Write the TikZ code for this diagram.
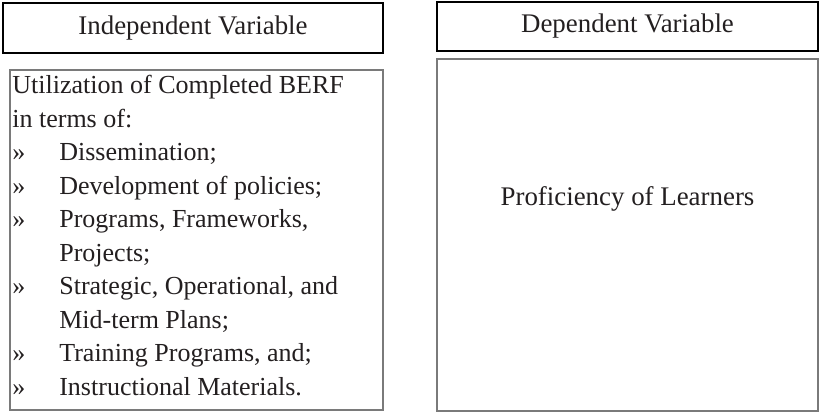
\documentclass[tikz,border=0pt]{standalone}
\usepackage{fontspec}
\setmainfont{Liberation Serif}
\definecolor{inkgrey}{HTML}{231F20}
\definecolor{boxgrey}{HTML}{7A7A7A}
\newcommand{\bul}[1]{\makebox[0.94cm][l]{»}#1}
\newcommand{\cont}[1]{\hspace*{0.94cm}#1}

\begin{document}
\begin{tikzpicture}[x=0.02cm, y=-0.02cm,
            every node/.style = {text=inkgrey, inner sep=0pt},
            headbox/.style = {draw=black, line width=0.6pt, rectangle},
            bodybox/.style = {draw=boxgrey, line width=0.9pt, rectangle},
            label/.style = {font=\fontsize{15.3}{18}\selectfont, anchor=base},
            bodytext/.style = {font=\fontsize{14.8}{19.07}\selectfont, align=left}]
\useasboundingbox (0,0) rectangle (821,412);

% headers
\draw[headbox] (3,3) rectangle (383,53);
\node[label] (indep) at (193,35) {Independent Variable};
\draw[headbox] (437,2) rectangle (818,51);
\node[label] (dep) at (627.5,33) {Dependent Variable};

% bodies
\draw[bodybox] (10,70) rectangle (383,410);
\node[bodytext, anchor=north west] (util) at (12,75) {%
Utilization of Completed BERF\\
in terms of:\\
\bul{Dissemination;}\\
\bul{Development of policies;}\\
\bul{Programs, Frameworks,}\\
\cont{Projects;}\\
\bul{Strategic, Operational, and}\\
\cont{Mid-term Plans;}\\
\bul{Training Programs, and;}\\
\bul{Instructional Materials.}};
\draw[bodybox] (437,59) rectangle (818,411);
\node[label] (prof) at (627.5,205) {Proficiency of Learners};

\end{tikzpicture}
\end{document}
